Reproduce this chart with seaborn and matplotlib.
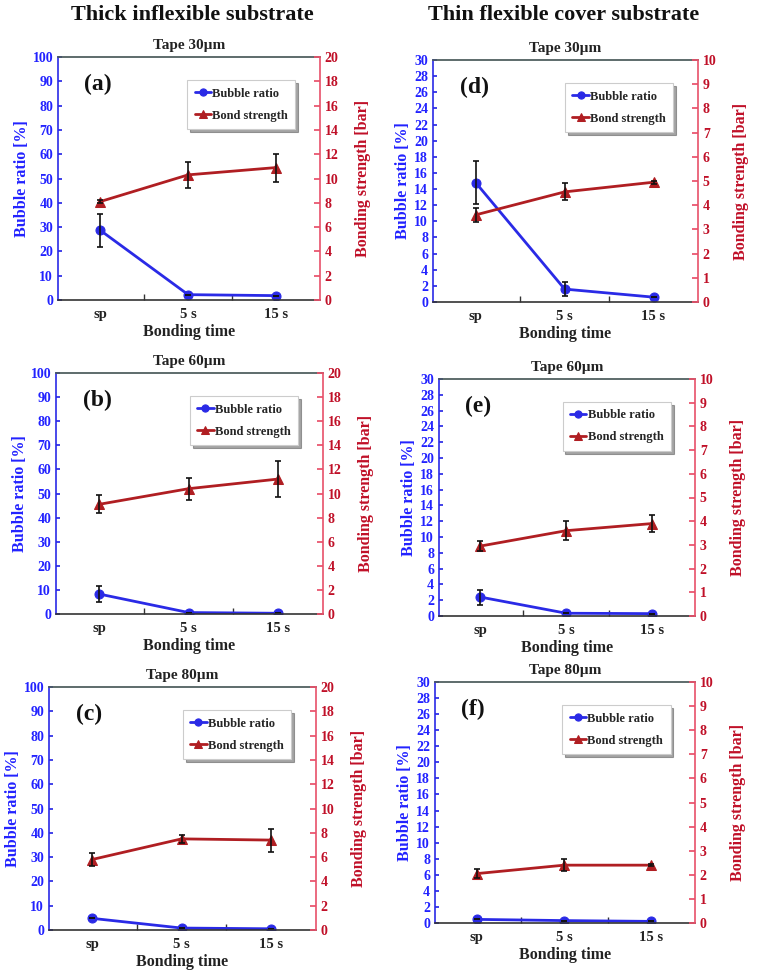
import numpy as np
import matplotlib
matplotlib.use("Agg")
import matplotlib.pyplot as plt
import seaborn as sns

# categories on the x axis
categories = ["sp", "5 s", "15 s"]

# thick inflexible substrate
bubble_a = [28.7, 2.2, 1.8]
bubble_a_err = [6.8, 0, 0]
bond_a = [8.1, 10.3, 10.9]
bond_a_err = [0.15, 1.05, 1.15]

bubble_b = [8.3, 0.6, 0.3]
bubble_b_err = [3.5, 0, 0]
bond_b = [9.1, 10.4, 11.2]
bond_b_err = [0.75, 0.9, 1.5]

bubble_c = [4.8, 0.8, 0.5]
bubble_c_err = [0, 0, 0]
bond_c = [5.8, 7.5, 7.4]
bond_c_err = [0.55, 0.3, 0.95]

# thin flexible cover substrate
bubble_d = [14.8, 1.6, 0.6]
bubble_d_err = [2.65, 0.85, 0]
bond_d = [3.6, 4.55, 4.95]
bond_d_err = [0.3, 0.35, 0.07]

bubble_e = [2.4, 0.35, 0.3]
bubble_e_err = [0.95, 0, 0]
bond_e = [2.95, 3.6, 3.9]
bond_e_err = [0.2, 0.4, 0.35]

bubble_f = [0.45, 0.3, 0.2]
bubble_f_err = [0, 0, 0]
bond_f = [2.05, 2.4, 2.4]
bond_f_err = [0.2, 0.25, 0.05]

sns.set_theme(style="white")
plt.rcParams["font.family"] = ["Liberation Serif", "DejaVu Serif"]
plt.rcParams["font.weight"] = "bold"

BLUE = "#2a2ae6"
BLUE_TXT = "#2222ff"
RED = "#b01e22"
RED_TXT = "#c01028"
RED_SPINE = "#e8506a"

fig = plt.figure(figsize=(7.6, 9.75), dpi=100)


def rect(l, t, r, b):
    return [l / 760, 1 - b / 975, (r - l) / 760, (b - t) / 975]


panels = [
    ("(a)", "Tape 30µm", rect(58, 57, 320, 300), bubble_a, bubble_a_err, bond_a, bond_a_err, 100, 10, 20, 2),
    ("(b)", "Tape 60µm", rect(56, 373, 323, 614), bubble_b, bubble_b_err, bond_b, bond_b_err, 100, 10, 20, 2),
    ("(c)", "Tape 80µm", rect(49, 687, 316, 930), bubble_c, bubble_c_err, bond_c, bond_c_err, 100, 10, 20, 2),
    ("(d)", "Tape 30µm", rect(433, 60, 698, 302), bubble_d, bubble_d_err, bond_d, bond_d_err, 30, 2, 10, 1),
    ("(e)", "Tape 60µm", rect(439, 379, 695, 616), bubble_e, bubble_e_err, bond_e, bond_e_err, 30, 2, 10, 1),
    ("(f)", "Tape 80µm", rect(435, 682, 695, 923), bubble_f, bubble_f_err, bond_f, bond_f_err, 30, 2, 10, 1),
]

xpos = np.arange(len(categories))

for tag, title, r, bub, bub_err, bond, bond_err, ymax, ystep, y2max, y2step in panels:
    ax = fig.add_axes(r)
    ax2 = ax.twinx()

    sns.lineplot(x=xpos, y=bub, ax=ax, color=BLUE, marker="o", markersize=6.5,
                 markeredgecolor=BLUE, linewidth=2, label="Bubble ratio", legend=False)
    ax.errorbar(xpos, bub, yerr=bub_err, fmt="none", ecolor="#111111",
                elinewidth=1.2, capsize=2.5, capthick=1.2)

    sns.lineplot(x=xpos, y=bond, ax=ax2, color=RED, marker="^", markersize=7,
                 markeredgecolor=RED, linewidth=2, label="Bond strength", legend=False)
    ax2.errorbar(xpos, bond, yerr=bond_err, fmt="none", ecolor="#111111",
                 elinewidth=1.2, capsize=2.5, capthick=1.2)

    ax.set_xlim(-0.48, 2.5)
    ax.set_ylim(0, ymax)
    ax2.set_ylim(0, y2max)
    ax.set_yticks(np.arange(0, ymax + 0.1, ystep))
    ax2.set_yticks(np.arange(0, y2max + 0.1, y2step))

    ax.set_xticks(xpos, categories)
    ax.set_xticks([0.5, 1.5], minor=True)
    ax.tick_params(axis="x", which="major", length=0, labelsize=10.5, pad=6, labelcolor="#222222")
    ax.tick_params(axis="x", which="minor", direction="in", length=4, width=1, color="#333333", bottom=True)
    ax.tick_params(axis="y", direction="in", length=3, color=BLUE, labelcolor=BLUE_TXT, labelsize=10, left=True)
    ax2.tick_params(axis="y", direction="in", length=4, color=RED_SPINE, labelcolor=RED_TXT, labelsize=10, right=True)

    for spine in ["left", "right", "top", "bottom"]:
        ax2.spines[spine].set_visible(False)
    ax2.spines["right"].set_visible(True)
    ax2.spines["right"].set_color(RED_SPINE)
    ax2.spines["right"].set_linewidth(1.2)
    ax.spines["right"].set_visible(False)
    ax.spines["left"].set_color(BLUE)
    ax.spines["left"].set_linewidth(1.2)
    ax.spines["top"].set_color("#4a5a5a")
    ax.spines["bottom"].set_color("#333333")
    ax.spines["bottom"].set_linewidth(1.2)

    ax.set_ylabel("Bubble ratio [%]", color=BLUE_TXT, fontsize=11.5, fontweight="bold", labelpad=2)
    ax2.set_ylabel("Bonding strength [bar]", color=RED_TXT, fontsize=11.5, fontweight="bold", labelpad=12)
    ax.set_xlabel("Bonding time", fontsize=11.5, fontweight="bold", color="#222222", labelpad=2)
    ax.set_title(title, fontsize=11, fontweight="bold", pad=6, color="#222222")

    ax.text(0.1, 0.93, tag, transform=ax.transAxes, fontsize=17, fontweight="bold",
            va="top", ha="left", color="#111111")

    h1, l1 = ax.get_legend_handles_labels()
    h2, l2 = ax2.get_legend_handles_labels()
    leg = ax2.legend(h1 + h2, l1 + l2, loc="upper right", bbox_to_anchor=(0.93, 0.93),
                     fontsize=9, frameon=True, fancybox=False, shadow=True,
                     handlelength=1.3, handletextpad=0.1, borderpad=0.6, labelspacing=0.8,
                     markerscale=0.8)
    leg.get_frame().set_edgecolor("#cccccc")
    leg.get_frame().set_linewidth(0.8)
    for t in leg.get_texts():
        t.set_fontweight("bold")

fig.text(192 / 760, 1 - 15 / 975, "Thick inflexible substrate", ha="center", va="center",
         fontsize=16, fontweight="bold", color="#111111")
fig.text(564 / 760, 1 - 15 / 975, "Thin flexible cover substrate", ha="center", va="center",
         fontsize=16, fontweight="bold", color="#111111")

fig.savefig("out.png", dpi=100)
